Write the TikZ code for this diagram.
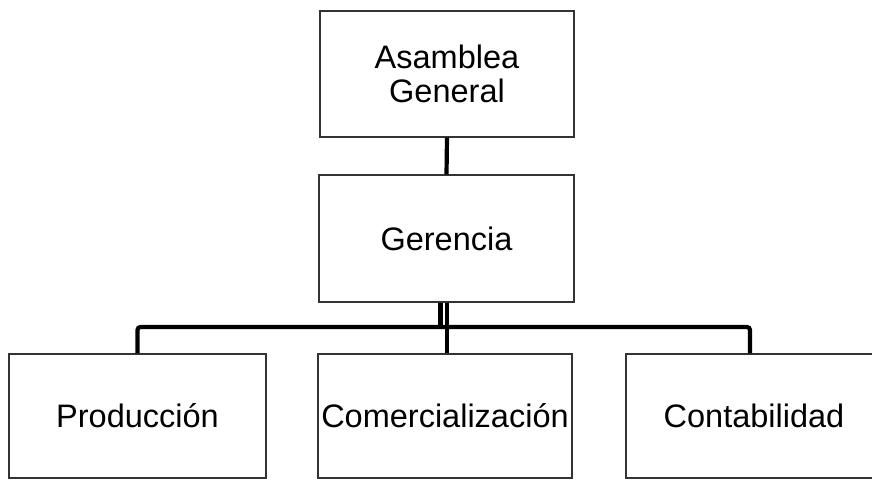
\documentclass[tikz,border=0pt]{standalone}
\usepackage{fontspec}
\setmainfont{Liberation Sans}
\begin{document}
\begin{tikzpicture}[x=1pt,y=-1pt,
  box/.style={draw=black!80, line width=1.3pt, fill=white, inner sep=0pt, align=center,
    font=\fontsize{32.5}{34}\selectfont},
  conn/.style={line width=4.2pt, black, rounded corners=3pt}]
\useasboundingbox (0,0) rectangle (872,479);
\node[box, minimum width=254, minimum height=126] (AG) at (447,74) {Asamblea\\General};
\node[box, minimum width=255, minimum height=127] (G) at (446.5,238.5) {Gerencia};
\node[box, minimum width=257, minimum height=124] (P) at (137.5,416) {Producción};
\node[box, minimum width=254, minimum height=124] (C) at (445,416) {Comercialización};
\node[box, minimum width=256, minimum height=124] (K) at (754,416) {Contabilidad};
\coordinate (busL) at (440.5,327);
\coordinate (busR) at (447,327);
\draw[conn] (AG.south) -- (G.north);
\draw[conn] (G.south -| busL) -- (busL);
\draw[conn] (busR) -| (P.north);
\draw[conn] (G.south -| busR) -- (C.north -| busR);
\draw[conn] (busR) -| ([xshift=-4pt]K.north);
\end{tikzpicture}
\end{document}
